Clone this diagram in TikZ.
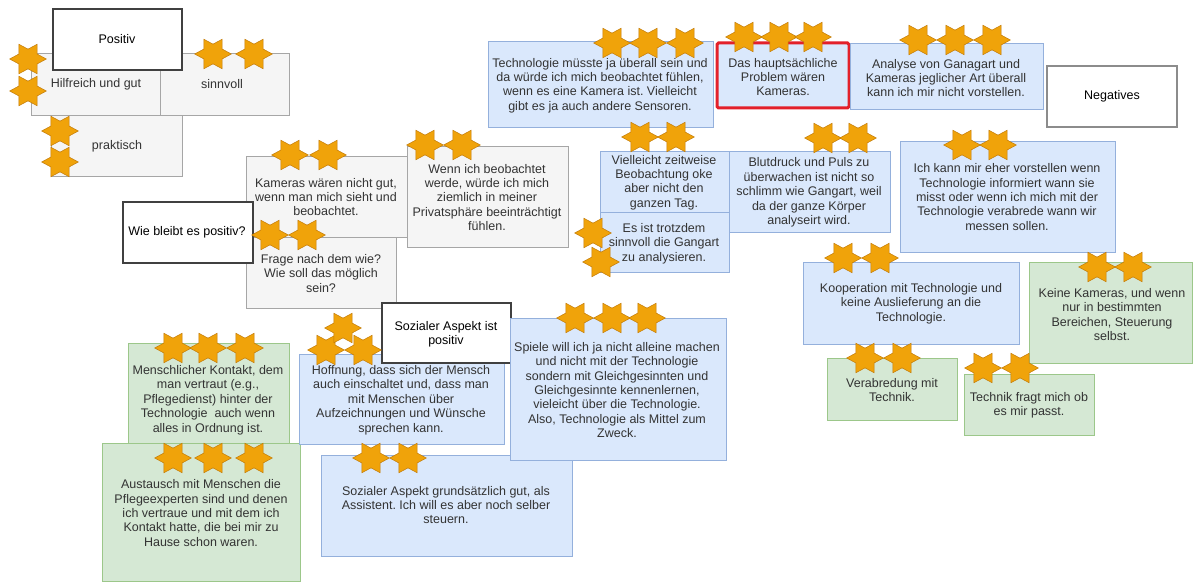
\documentclass[tikz,border=0pt]{standalone}
\usepackage{fontspec}
\setmainfont{Liberation Sans}
\frenchspacing
\definecolor{gfill}{HTML}{F5F5F5}
\definecolor{gline}{HTML}{A6A6A6}
\definecolor{bfill}{HTML}{DAE8FC}
\definecolor{bline}{HTML}{94B0DC}
\definecolor{grfill}{HTML}{D5E8D4}
\definecolor{grline}{HTML}{9CC78A}
\definecolor{lline}{HTML}{404040}
\definecolor{nline}{HTML}{8C8C8C}
\definecolor{redline}{HTML}{E3202A}
\definecolor{starfill}{HTML}{F0A30A}
\definecolor{starline}{HTML}{C27A06}
\definecolor{tcol}{HTML}{333333}
\newcommand\mybox[6]{\node[#1, minimum width={#4-#2}, minimum height={#5-#3}] (#6) at ({(#2+#4)/2},{(#3+#5)/2}) {};}
\tikzset{
  box/.style={rectangle, inner sep=0pt, outer sep=0pt, line width=1pt},
  greybox/.style={box, fill=gfill, draw=gline},
  bluebox/.style={box, fill=bfill, draw=bline},
  greenbox/.style={box, fill=grfill, draw=grline},
  labelbox/.style={box, fill=white, draw=lline, line width=1.5pt},
  negbox/.style={box, fill=white, draw=nline, line width=2pt},
  redbox/.style={box, fill=bfill, draw=redline, line width=3pt, rounded corners=1.5pt},
  txt/.style={inner sep=0pt, align=center, text=tcol, font=\fontsize{12.5}{14.4}\selectfont},
  ltxt/.style={txt, text=black},
  hstar/.pic={\path[fill=starfill, draw=starline, line width=0.5pt, yscale=0.93]
    (0:18.3) -- (30:10.6) -- (60:18.3) -- (90:10.6) -- (120:18.3) -- (150:10.6) --
    (180:18.3) -- (210:10.6) -- (240:18.3) -- (270:10.6) -- (300:18.3) -- (330:10.6) -- cycle;}
}
\begin{document}
\begin{tikzpicture}[x=1pt,y=-1pt]
\useasboundingbox[fill=white] (0,0) rectangle (1193,583);
% Positive group
\mybox{greybox}{31}{54}{160}{116}{hilf}
\mybox{greybox}{160}{54}{289}{116}{sinn}
\mybox{greybox}{51}{116}{182}{176}{prak}
\mybox{labelbox}{53}{9}{182}{70}{pos}
\node[ltxt] (post) at (117,39) {Positiv};
\node[txt] (hilft) at (96,84) {Hilfreich und gut};
\node[txt] (sinnt) at (222,84) {sinnvoll};
\node[txt] (prakt) at (117,146) {praktisch};
% Grey middle group
\mybox{greybox}{246}{156}{408}{237}{kam}
\mybox{greybox}{246}{237}{396}{308}{frage}
\mybox{greybox}{407}{146}{568}{247}{wenn}
\mybox{labelbox}{123}{202}{253}{263}{wie}
\node[txt] (kamt) at (326,197) {Kameras wären nicht gut,\\wenn man mich sieht und\\beobachtet.};
\node[txt] (fraget) at (321,273.5) {Frage nach dem wie?\\Wie soll das möglich\\sein?};
\node[txt] (wennt) at (487,197.5) {Wenn ich beobachtet\\werde, würde ich mich\\ziemlich in meiner\\Privatsphäre beeinträchtigt\\fühlen.};
\node[ltxt] (wiet) at (187,232) {Wie bleibt es positiv?};
% Top blue
\mybox{bluebox}{488}{42}{713}{128}{tech}
\mybox{redbox}{717}{43}{849}{108}{prob}
\mybox{bluebox}{850}{44}{1043}{110}{anal}
\mybox{negbox}{1047}{66}{1177}{127}{neg}
\node[txt] (techt) at (600,85.5) {Technologie müsste ja überall sein und\\da würde ich mich beobachtet fühlen,\\wenn es eine Kamera ist. Vielleicht\\gibt es ja auch andere Sensoren.};
\node[txt] (probt) at (783,77) {Das hauptsächliche\\Problem wären\\Kameras.};
\node[txt] (analt) at (946,78) {Analyse von Ganagart und\\Kameras jeglicher Art überall\\kann ich mir nicht vorstellen.};
\node[ltxt] (negt) at (1112,96) {Negatives};
% Middle blue
\mybox{bluebox}{600}{151}{729}{212}{viel}
\mybox{bluebox}{600}{212}{729}{272}{esist}
\mybox{bluebox}{729}{151}{890}{232}{blut}
\mybox{bluebox}{900}{141}{1115}{252}{ichk}
\mybox{bluebox}{803}{262}{1019}{344}{koop}
\node[txt] (vielt) at (664,182.5) {Vielleicht zeitweise\\Beobachtung oke\\aber nicht den\\ganzen Tag.};
\node[txt] (esistt) at (664,243.5) {Es ist trotzdem\\sinnvoll die Gangart\\zu analysieren.};
\node[txt] (blutt) at (809,192.5) {Blutdruck und Puls zu\\überwachen ist nicht so\\schlimm wie Gangart, weil\\da der ganze Körper\\analyseirt wird.};
\node[txt] (ichkt) at (1007,197) {Ich kann mir eher vorstellen wenn\\Technologie informiert wann sie\\misst oder wenn ich mich mit der\\Technologie verabrede wann wir\\messen sollen.};
\node[txt] (koopt) at (911,303.5) {Kooperation mit Technologie und\\keine Auslieferung an die\\Technologie.};
% Right green
\mybox{greenbox}{1029}{262}{1192}{363}{keine}
\mybox{greenbox}{827}{358}{957}{420}{verab}
\mybox{greenbox}{964}{374}{1094}{435}{tfrag}
\node[txt] (keinet) at (1112,314.5) {Keine Kameras, und wenn\\nur in bestimmten\\Bereichen, Steuerung\\selbst.};
\node[txt] (verabt) at (892,390) {Verabredung mit\\Technik.};
\node[txt] (tfragt) at (1029,405.5) {Technik fragt mich ob\\es mir passt.};
% Bottom left
\mybox{greenbox}{128}{343}{289}{445}{mensch}
\mybox{greenbox}{102}{443}{300}{581}{aust}
\mybox{bluebox}{299}{354}{504}{444}{hoff}
\mybox{labelbox}{382}{303}{511}{363}{soz}
\mybox{bluebox}{321}{455}{572}{556}{sozgr}
\mybox{bluebox}{510}{318}{726}{460}{spiele}
\node[txt] (menscht) at (208,400) {Menschlicher Kontakt, dem\\man vertraut (e.g.,\\Pflegedienst) hinter der\\Technologie\ \ auch wenn\\alles in Ordnung ist.};
\node[txt] (austt) at (201,513) {Austausch mit Menschen die\\Pflegeexperten sind und denen\\ich vertraue und mit dem ich\\Kontakt hatte, die bei mir zu\\Hause schon waren.};
\node[txt] (hofft) at (401,400) {Hoffnung, dass sich der Mensch\\auch einschaltet und, dass man\\mit Menschen über\\Aufzeichnungen und Wünsche\\sprechen kann.};
\node[ltxt] (sozt) at (446,334) {Sozialer Aspekt ist\\positiv};
\node[txt] (sozgrt) at (446,505) {Sozialer Aspekt grundsätzlich gut, als\\Assistent. Ich will es aber noch selber\\steuern.};
\node[txt] (spielet) at (617,390) {Spiele will ich ja nicht alleine machen\\und nicht mit der Technologie\\sondern mit Gleichgesinnten und\\Gleichgesinnte kennenlernen,\\vieleicht über die Technologie.\\Also, Technologie als Mittel zum\\Zweck.};
% Stars
\foreach \sx/\sy in {28/59, 28/91, 213/54, 254/54, 60/131, 60/162,
  612/43, 648/43, 685/43, 744/37, 779/37, 813/37, 918/40, 955/40, 992/40,
  962/145, 998/145, 290/155, 328/155, 425/145, 462/145, 270/235, 307/235,
  640/137, 676/137, 593/233, 601/262, 823/138, 858/138, 843/258, 880/258,
  1097/267, 1133/267, 865/358, 902/358, 983/368, 1020/368,
  173/348, 208/348, 245/348, 326/350, 363/350, 343/328,
  575/318, 612/318, 647/318, 173/458, 213/458, 254/458, 371/458, 408/458}
  \pic at (\sx,\sy) {hstar};
\end{tikzpicture}
\end{document}
